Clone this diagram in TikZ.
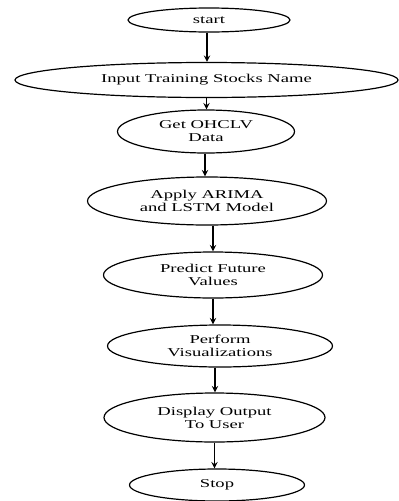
\documentclass[tikz,border=0pt]{standalone}
\usepackage{fontspec}
\setmainfont{Liberation Serif}[FakeStretch=1.55]
\usetikzlibrary{shapes.geometric}
\tikzset{
  stage/.style={ellipse,draw,line width=1.2pt,inner sep=0pt,align=center,
    font=\fontsize{12}{13}\selectfont},
  flow/.style={->,line width=1.8pt}
}
\begin{document}
\begin{tikzpicture}[>=stealth,x=1pt,y=1pt]
            \useasboundingbox (0,0) rectangle (399,-501);
            \node[stage,minimum width=162pt,minimum height=24pt] (start) at (209,-20) {start};
            \node[stage,minimum width=383pt,minimum height=35pt] (input) at (206.5,-80) {Input Training Stocks Name};
            \node[stage,minimum width=177pt,minimum height=43pt] (get) at (206,-131.5) {Get OHCLV\\Data};
            \node[stage,minimum width=239pt,minimum height=48pt] (apply) at (207,-201) {Apply ARIMA\\and LSTM Model};
            \node[stage,minimum width=219pt,minimum height=46pt] (predict) at (213,-275) {Predict Future\\Values};
            \node[stage,minimum width=225pt,minimum height=42pt] (perform) at (220,-346) {Perform\\Visualizations};
            \node[stage,minimum width=221pt,minimum height=49pt] (display) at (214.5,-417.5) {Display Output\\To User};
            \node[stage,minimum width=175pt,minimum height=32pt] (stop) at (217,-485) {Stop};
            % arrows between the steps
            \foreach \a/\b/\s in {start/input/-2,input/get/0,get/apply/-1,apply/predict/6,
                                  predict/perform/0,perform/display/-5,display/stop/0}
                \draw[flow] ([xshift=\s pt]\a.south) -- ([xshift=\s pt]\a.south |- \b.north);
        \end{tikzpicture}
\end{document}
